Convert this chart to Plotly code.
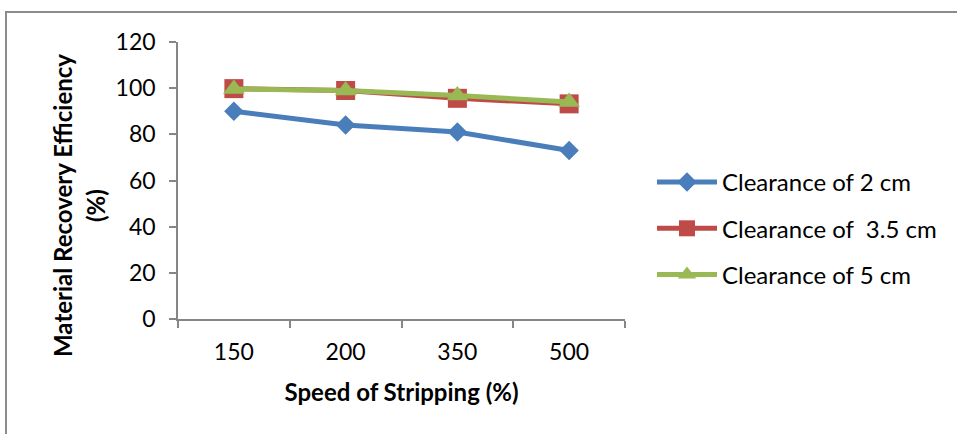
import plotly.graph_objects as go

categories = ["150", "200", "350", "500"]
clear_2 = [90, 84, 81, 73]
clear_35 = [99.8, 99, 95.6, 93.2]
clear_5 = [99.6, 99, 96.8, 94]
series_names = ["Clearance of 2 cm", "Clearance of  3.5 cm", "Clearance of 5 cm"]
y_ticks = [0, 20, 40, 60, 80, 100, 120]

W, H = 957, 434
L, R, T, B = 178, 625, 42, 319  # plot area pixel box
FONT = "Lato"
AX = "#868686"

def px(x):
    return (x - L) / (R - L)

def py(y):
    return (B - y) / (B - T)

fig = go.Figure()
styles = [
    ("#4A7EBB", "diamond", 15),
    ("#BE4B48", "square", 19),
    ("#98B954", "triangle-up", 19),
]
for i, (vals, name, (col, sym, ms)) in enumerate(zip([clear_2, clear_35, clear_5], series_names, styles)):
    fig.add_trace(go.Scatter(
        x=categories, y=vals, name=name, mode="lines+markers",
        line=dict(color=col, width=5),
        marker=dict(symbol=sym, size=ms, color=col),
        legendgroup=f"g{i}",
    ))

fig.update_layout(
    width=W, height=H,
    margin=dict(l=L, r=W - R, t=T, b=H - B),
    paper_bgcolor="white", plot_bgcolor="white",
    font=dict(family=FONT, color="black", size=23),
    showlegend=True,
    legend=dict(
        x=px(652), y=py(160), xanchor="left", yanchor="top",
        font=dict(family=FONT, size=24, color="black"),
        tracegroupgap=12, traceorder="grouped",
        bgcolor="rgba(0,0,0,0)", itemwidth=60,
    ),
)
fig.update_xaxes(
    type="category", range=[-0.5, 3.5], tickson="boundaries",
    showline=True, linecolor=AX, linewidth=1.5,
    ticks="outside", ticklen=7, tickcolor=AX, tickwidth=1.5,
    showgrid=False, zeroline=False,
    tickfont=dict(family=FONT, size=23), ticklabelstandoff=12,
    title=dict(text="<b>Speed of Stripping (%)</b>", font=dict(family=FONT, size=24), standoff=20),
)
fig.update_yaxes(
    range=[0, 120], tickvals=y_ticks,
    showline=True, linecolor=AX, linewidth=1.5,
    ticks="outside", ticklen=7, tickcolor=AX, tickwidth=1.5,
    showgrid=False, zeroline=False,
    tickfont=dict(family=FONT, size=23), ticklabelstandoff=9,
)
# y-axis title (two lines)
fig.add_annotation(text="<b>Material Recovery Efficiency</b>", xref="paper", yref="paper",
                   x=px(62), y=py(206), textangle=-90, showarrow=False,
                   font=dict(family=FONT, size=24), xanchor="center", yanchor="middle")
fig.add_annotation(text="<b>(%)</b>", xref="paper", yref="paper",
                   x=px(95), y=py(206), textangle=-90, showarrow=False,
                   font=dict(family=FONT, size=24), xanchor="center", yanchor="middle")
# outer chart frame
fig.add_shape(type="rect", xref="paper", yref="paper",
              x0=px(6), y0=py(H + 20), x1=px(W + 20), y1=py(12),
              line=dict(color="#8c8c8c", width=2), fillcolor="rgba(0,0,0,0)", layer="below")

fig.write_html("out.html")
